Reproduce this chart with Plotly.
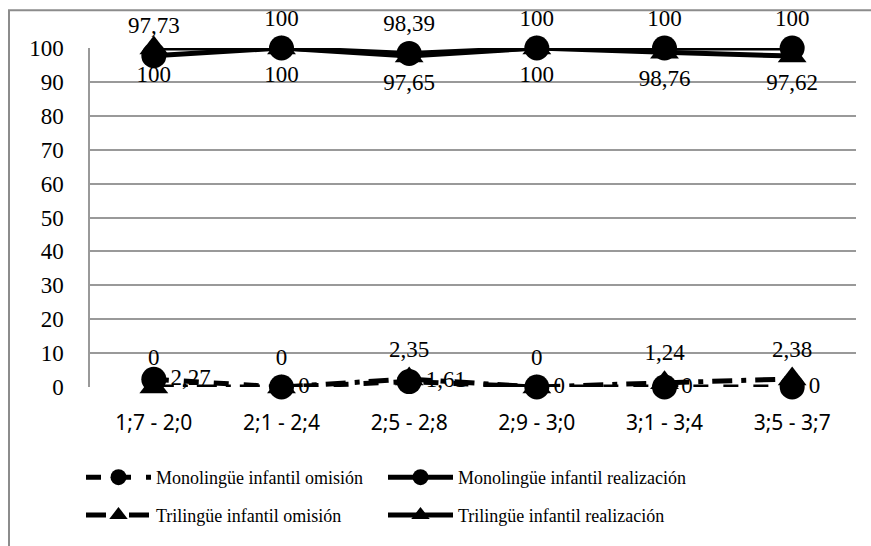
import plotly.graph_objects as go

categories = ["1;7 - 2;0", "2;1 - 2;4", "2;5 - 2;8", "2;9 - 3;0", "3;1 - 3;4", "3;5 - 3;7"]
mono_omision = [2.27, 0, 1.61, 0, 0, 0]
mono_realizacion = [97.73, 100, 98.39, 100, 100, 100]
tri_omision = [0, 0, 2.35, 0, 1.24, 2.38]
tri_realizacion = [100, 100, 97.65, 100, 98.76, 97.62]
y_ticks = [0, 10, 20, 30, 40, 50, 60, 70, 80, 90, 100]


def fmt(vals):
    return [("%g" % v).replace(".", ",") for v in vals]


SERIF = "'Liberation Serif', 'Times New Roman', 'DejaVu Serif', serif"
L, R, T, B = 90, 15, 48, 157
W, H = 871, 546
pw, ph = W - L - R, H - T - B


def px_x(p):
    return (p - L) / pw


def px_y(p):
    return (H - B - p) / ph


fig = go.Figure()

series = [
    ("Monolingüe infantil omisión", mono_omision, "circle", 25, "dash", "middle right", "legend"),
    ("Monolingüe infantil realización", mono_realizacion, "circle", 25, "solid", "top center", "legend2"),
    ("Trilingüe infantil omisión", tri_omision, "triangle-up", 25, "20px,9px,5px,9px", "top center", "legend3"),
    ("Trilingüe infantil realización", tri_realizacion, "triangle-up", 25, "solid", "bottom center", "legend4"),
]

for name, vals, sym, size, dash, tpos, leg in series:
    fig.add_trace(go.Scatter(
        x=categories, y=vals, name=name, mode="lines+markers+text",
        line=dict(color="black", width=5, dash=dash),
        marker=dict(symbol=sym, size=size, color="black"),
        text=fmt(vals), textposition=tpos,
        textfont=dict(family=SERIF, size=23, color="black"),
        legend=leg, cliponaxis=False,
    ))

leg_common = dict(orientation="h", font=dict(family=SERIF, size=18, color="black"),
                  bgcolor="rgba(0,0,0,0)", yanchor="middle", xanchor="left", itemwidth=65)
fig.update_layout(
    legend=dict(x=px_x(81), y=px_y(480), **leg_common),
    legend2=dict(x=px_x(383), y=px_y(480), **leg_common),
    legend3=dict(x=px_x(81), y=px_y(518), **leg_common),
    legend4=dict(x=px_x(383), y=px_y(518), **leg_common),
)

fig.update_layout(
    width=W, height=H,
    margin=dict(l=L, r=R, t=T, b=B),
    paper_bgcolor="white", plot_bgcolor="white",
    showlegend=True,
    xaxis=dict(type="category", range=[-0.5, 5.5], showgrid=False, zeroline=False,
               showline=False, ticks="", ticklabelstandoff=21,
               tickfont=dict(family="Noto Sans", size=21, color="black")),
    yaxis=dict(range=[0, 100], tickvals=y_ticks, showgrid=True, gridcolor="#999999", gridwidth=1.5,
               zeroline=False, showline=True, linecolor="#999999", linewidth=1.5, ticks="",
               ticklabelstandoff=20,
               tickfont=dict(family=SERIF, size=23, color="black")),
    shapes=[dict(type="rect", xref="paper", yref="paper",
                 x0=px_x(9), x1=px_x(880), y0=px_y(560), y1=px_y(10),
                 line=dict(color="#8c8c8c", width=2), fillcolor="rgba(0,0,0,0)", layer="below")],
)

fig.write_html("out.html")
